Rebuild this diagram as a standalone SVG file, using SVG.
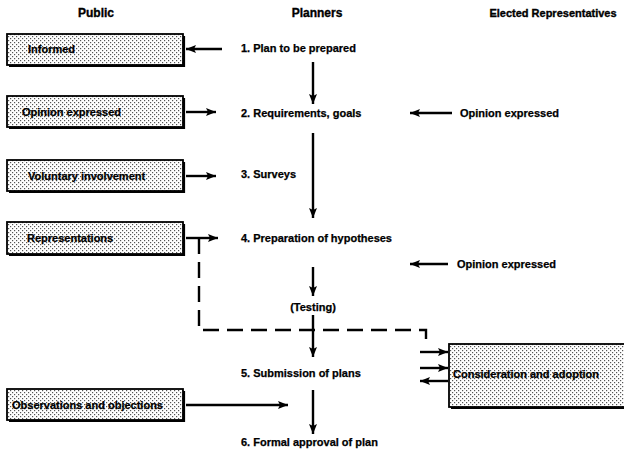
<svg xmlns="http://www.w3.org/2000/svg" width="624" height="454" viewBox="0 0 624 454">
<defs>
<pattern id="dots" width="4" height="4" patternUnits="userSpaceOnUse">
<rect width="4" height="4" fill="#fff"/>
<rect x="0" y="0" width="1.2" height="1.2" fill="#555"/>
<rect x="2" y="2" width="1.2" height="1.2" fill="#555"/>
</pattern>
<marker id="ah" viewBox="0 0 10 8" refX="10" refY="4" markerWidth="10" markerHeight="8" markerUnits="userSpaceOnUse" orient="auto">
<path d="M0,0 L10,4 L0,8 L2,4 Z" fill="#000"/>
</marker>
<style>
.t{font-family:"Liberation Sans",Arial,sans-serif;font-weight:bold;font-size:11px;fill:#000;stroke:#000;stroke-width:0.25}
.h{font-family:"Liberation Sans",Arial,sans-serif;font-weight:bold;font-size:12px;fill:#000;stroke:#000;stroke-width:0.35}
.box{fill:url(#dots);stroke:#000;stroke-width:1.8}
.sh{fill:none;stroke:#000;stroke-width:2.2}
.a{fill:none;stroke:#000;stroke-width:2.4;marker-end:url(#ah)}
.d{fill:none;stroke:#000;stroke-width:2.4;stroke-dasharray:16 8}
</style>
</defs>
<rect width="624" height="454" fill="#fff"/>
<g id="headers">
<text class="h" x="96" y="17" text-anchor="middle">Public</text>
<text class="h" x="317" y="17" text-anchor="middle">Planners</text>
<text class="h" x="553" y="17" text-anchor="middle" style="font-size:11px">Elected Representatives</text>
</g>
<g id="connectors">
<line class="a" x1="222" y1="49" x2="186" y2="49"/>
<line class="a" x1="313" y1="62" x2="313" y2="104"/>
<line class="a" x1="186" y1="112" x2="216" y2="112"/>
<line class="a" x1="452" y1="113" x2="410" y2="113"/>
<line class="a" x1="313" y1="133" x2="313" y2="218"/>
<line class="a" x1="186" y1="176" x2="216" y2="176"/>
<line class="a" x1="186" y1="238" x2="218" y2="238"/>
<line class="a" x1="448" y1="264" x2="410" y2="264"/>
<line class="a" x1="313" y1="267" x2="313" y2="296"/>
<path class="d" d="M199,238 V330 H426 V347"/>
<line class="a" x1="313" y1="315" x2="313" y2="357"/>
<line class="a" x1="420" y1="352" x2="448" y2="352"/>
<line class="a" x1="420" y1="368" x2="448" y2="368"/>
<line class="a" x1="448" y1="381" x2="420" y2="381"/>
<line class="a" x1="186" y1="405" x2="288" y2="405"/>
<line class="a" x1="313" y1="390" x2="313" y2="434"/>
</g>
<g id="informed">
<rect class="box" x="7" y="34" width="176" height="31"/>
<path class="sh" d="M9,66 H184 V36"/>
<text class="t" x="28" y="53">Informed</text>
</g>
<g id="opinion-public">
<rect class="box" x="7" y="96" width="176" height="31"/>
<path class="sh" d="M9,128 H184 V98"/>
<text class="t" x="22" y="116">Opinion expressed</text>
</g>
<g id="voluntary">
<rect class="box" x="7" y="160" width="176" height="31"/>
<path class="sh" d="M9,192 H184 V162"/>
<text class="t" x="28" y="180">Voluntary involvement</text>
</g>
<g id="representations">
<rect class="box" x="7" y="222" width="176" height="32"/>
<path class="sh" d="M9,255 H184 V224"/>
<text class="t" x="27" y="242">Representations</text>
</g>
<g id="observations">
<rect class="box" x="7" y="389" width="176" height="31"/>
<path class="sh" d="M9,421 H184 V391"/>
<text class="t" x="12" y="409">Observations and objections</text>
</g>
<g id="consideration">
<rect class="box" x="449" y="344" width="180" height="63"/>
<path class="sh" d="M451,408 H630"/>
<text class="t" x="453" y="378">Consideration and adoption</text>
</g>
<g id="step1"><text class="t" x="241" y="52">1. Plan to be prepared</text></g>
<g id="step2"><text class="t" x="241" y="117">2. Requirements, goals</text></g>
<g id="opinion-er1"><text class="t" x="460" y="117">Opinion expressed</text></g>
<g id="step3"><text class="t" x="241" y="178">3. Surveys</text></g>
<g id="step4"><text class="t" x="241" y="242">4. Preparation of hypotheses</text></g>
<g id="opinion-er2"><text class="t" x="457" y="268">Opinion expressed</text></g>
<g id="testing"><text class="t" x="313" y="311" text-anchor="middle">(Testing)</text></g>
<g id="step5"><text class="t" x="241" y="377">5. Submission of plans</text></g>
<g id="step6"><text class="t" x="241" y="446">6. Formal approval of plan</text></g>
</svg>
